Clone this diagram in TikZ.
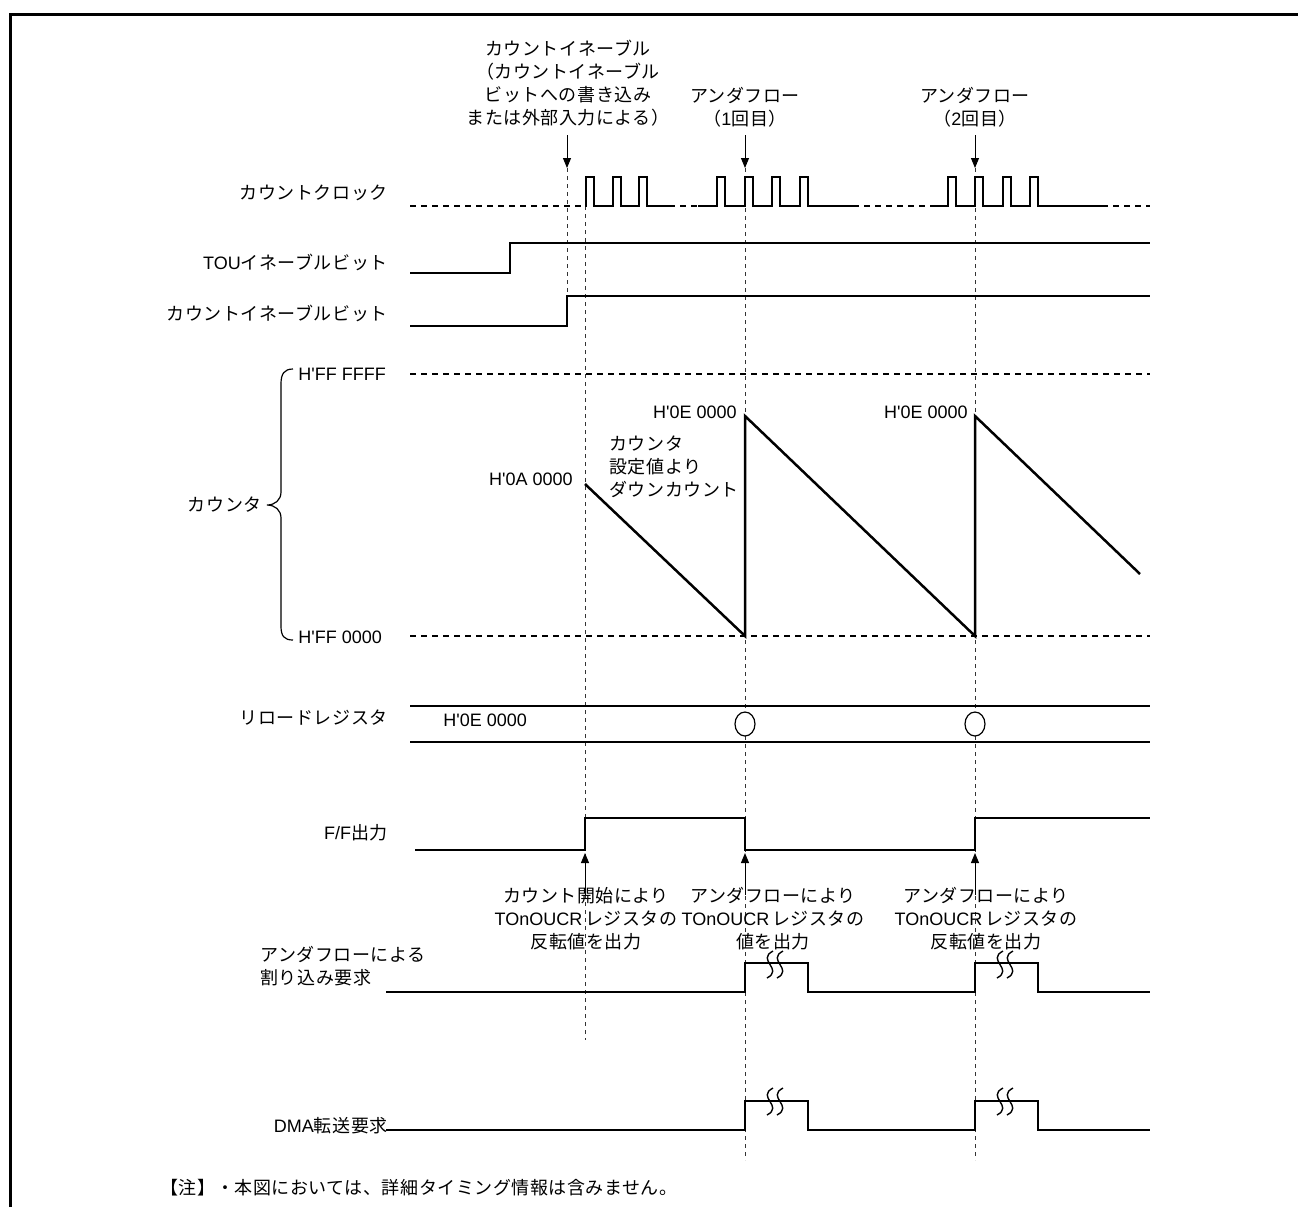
\documentclass[tikz,border=0pt]{standalone}
\usepackage{fontspec}
\setmainfont{Liberation Sans}
\newfontfamily\jpfont{Noto Sans CJK JP}[LetterSpace=3]
\newcommand{\jp}[1]{{\jpfont #1}}
\newcommand{\hval}[1]{H\textquotesingle#1}
\usetikzlibrary{arrows.meta}
% vertical break mark on a pulse
\newcommand{\squig}[2]{\draw[line width=0.7pt] (#1+3,#2) .. controls (#1-14,#2+9) and (#1+14,#2+18) .. (#1-3,#2+27);}

\begin{document}
\begin{tikzpicture}[x=0.5pt, y=-0.5pt, font=\fontsize{9}{11.5}\selectfont, line join=miter, >={Triangle[length=5pt,width=4pt]},
	wave/.style={line width=1.25pt},
	level/.style={line width=1pt, dash pattern=on 3pt off 2.5pt},
	guide/.style={line width=0.5pt, dash pattern=on 2pt off 2pt, black!80},
	lbl/.style={inner sep=0pt, anchor=east},
	txt/.style={inner sep=0pt, align=center}]
	\useasboundingbox (0,0) rectangle (1298,1207);
	\draw[line width=1.5pt] (10,1207) -- (10,14) -- (1298,14);
	% timing points
	\coordinate (E) at (567,168);
	\coordinate (U1) at (745,168);
	\coordinate (U2) at (975,168);
	\coordinate (Et) at (567,135);
	\coordinate (U1t) at (745,135);
	\coordinate (U2t) at (975,135);
	\coordinate (F0) at (585,853);
	\coordinate (F1) at (745,853);
	\coordinate (F2) at (975,853);
	\coordinate (F0t) at (585,895);
	\coordinate (F1t) at (745,895);
	\coordinate (F2t) at (975,895);
	% guide lines
	\draw[guide] (E) -- (567,296);
	\draw[guide] (585,206) -- (585,1040);
	\draw[guide] (U1) -- (745,1160);
	\draw[guide] (U2) -- (975,1160);
	% top labels
	\node[txt] (cel) at (568,83) {\jp{カウントイネーブル}\\\jp{（カウントイネーブル}\\\jp{ビットへの書き込み}\\\jp{または外部入力による）}};
	\node[txt] (uf1) at (745,107) {\jp{アンダフロー}\\\jp{（}1\jp{回目）}};
	\node[txt] (uf2) at (975,107) {\jp{アンダフロー}\\\jp{（}2\jp{回目）}};
	\draw[->, line width=0.5pt] (Et) -- (E);
	\draw[->, line width=0.5pt] (U1t) -- (U1);
	\draw[->, line width=0.5pt] (U2t) -- (U2);
	% count clock
	\node[lbl] (clk) at (388,193) {\jp{カウントクロック}};
	\draw[level] (410,206) -- (585,206);
	\draw[wave] (585,206) \foreach \t in {586,613,639}{ -- (\t,206) -- (\t,177) -- (\t+8,177) -- (\t+8,206)} -- (669,206);
	\draw[level] (669,206) -- (698,206);
	\draw[wave] (698,206) \foreach \t in {717,745,772,800}{ -- (\t,206) -- (\t,177) -- (\t+8,177) -- (\t+8,206)} -- (853,206);
	\draw[level] (853,206) -- (930,206);
	\draw[wave] (930,206) \foreach \t in {948,975,1003,1030}{ -- (\t,206) -- (\t,177) -- (\t+8,177) -- (\t+8,206)} -- (1102,206);
	\draw[level] (1102,206) -- (1150,206);
	% enable bits
	\node[lbl] (tou) at (388,262) {TOU\jp{イネーブルビット}};
	\draw[wave] (410,273) -- (510,273) -- (510,243) -- (1150,243);
	\node[lbl] (cen) at (388,313) {\jp{カウントイネーブルビット}};
	\draw[wave] (410,326) -- (567,326) -- (567,296) -- (1150,296);
	% counter
	\node[anchor=west, inner sep=0pt] (ffff) at (298,374) {\hval{FF FFFF}};
	\node[anchor=west, inner sep=0pt] (ff00) at (298,637) {\hval{FF 0000}};
	\node[lbl] (cnt) at (262,505) {\jp{カウンタ}};
	\draw[line width=0.6pt] (293,369) .. controls (284,369) and (281,374) .. (281,384) -- (281,492) .. controls (281,500) and (275,505) .. (267,505) .. controls (275,505) and (281,510) .. (281,518) -- (281,626) .. controls (281,636) and (284,640) .. (293,640);
	\draw[level] (410,374) -- (1150,374);
	\draw[level] (410,636) -- (1150,636);
	\draw[wave] (585,484) -- (745,636) -- (745,416) -- (975,636) -- (975,416) -- (1140,574);
	\node[anchor=east, inner sep=0pt] (v0a) at (573,479) {\hval{0A 0000}};
	\node[anchor=east, inner sep=0pt] (v0e1) at (737,412) {\hval{0E 0000}};
	\node[anchor=east, inner sep=0pt] (v0e2) at (968,412) {\hval{0E 0000}};
	\node[anchor=west, inner sep=0pt, align=left] (dwn) at (609,467) {\jp{カウンタ}\\\jp{設定値より}\\\jp{ダウンカウント}};
	% reload register
	\node[lbl] (rld) at (388,718) {\jp{リロードレジスタ}};
	\draw[wave] (410,706) -- (1150,706);
	\draw[wave] (410,742) -- (1150,742);
	\node[anchor=west, inner sep=0pt] (rv) at (443,720) {\hval{0E 0000}};
	\draw[line width=0.6pt, fill=white] (745,724) ellipse (5pt and 6pt);
	\draw[line width=0.6pt, fill=white] (975,724) ellipse (5pt and 6pt);
	% F/F output
	\node[lbl] (ffo) at (388,833) {F/F\jp{出力}};
	\draw[wave] (415,850) -- (585,850) -- (585,818) -- (745,818) -- (745,850) -- (975,850) -- (975,818) -- (1150,818);
	\draw[->, line width=0.5pt] (F0t) -- (F0);
	\draw[->, line width=0.5pt] (F1t) -- (F1);
	\draw[->, line width=0.5pt] (F2t) -- (F2);
	\node[txt] (n1) at (586,919) {\jp{カウント開始により}\\TOnOUCR\,\jp{レジスタの}\\\jp{反転値を出力}};
	\node[txt] (n2) at (773,919) {\jp{アンダフローにより}\\TOnOUCR\,\jp{レジスタの}\\\jp{値を出力}};
	\node[txt] (n3) at (986,919) {\jp{アンダフローにより}\\TOnOUCR\,\jp{レジスタの}\\\jp{反転値を出力}};
	% interrupt request
	\node[anchor=west, inner sep=0pt, align=left] (irq) at (260,966) {\jp{アンダフローによる}\\\jp{割り込み要求}};
	\draw[wave] (386,992) -- (745,992) -- (745,963) -- (808,963) -- (808,992) -- (975,992) -- (975,963) -- (1038,963) -- (1038,992) -- (1150,992);
	\squig{770}{951} \squig{780}{951}
	\squig{1000}{951} \squig{1010}{951}
	% DMA request
	\node[lbl] (dma) at (388,1126) {DMA\jp{転送要求}};
	\draw[wave] (386,1130) -- (745,1130) -- (745,1101) -- (808,1101) -- (808,1130) -- (975,1130) -- (975,1101) -- (1038,1101) -- (1038,1130) -- (1150,1130);
	\squig{770}{1088} \squig{780}{1088}
	\squig{1000}{1088} \squig{1010}{1088}
	% note
	\node[anchor=west, inner sep=0pt] (nt) at (160,1188) {\jp{【注】・本図においては、詳細タイミング情報は含みません。}};
\end{tikzpicture}
\end{document}
